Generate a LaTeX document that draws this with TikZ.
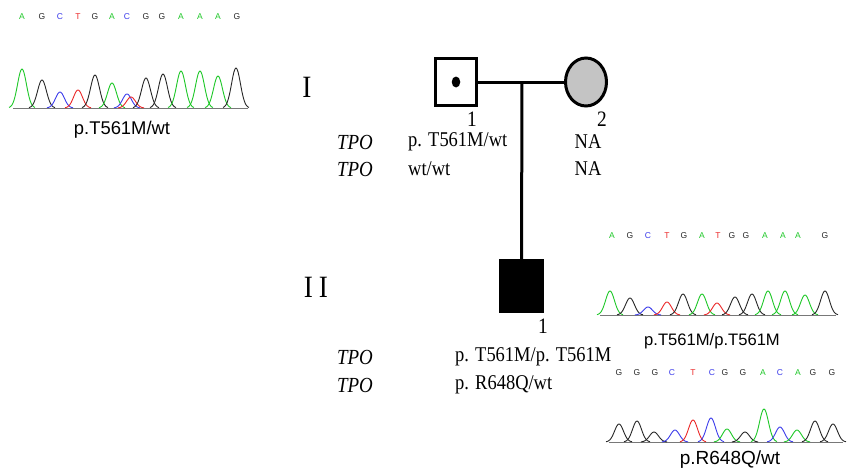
\documentclass[tikz,border=0pt]{standalone}
\usepackage{fontspec}
\setmainfont{Liberation Serif}
\setsansfont{Liberation Sans}
\newfontfamily\pedfont[FakeStretch=0.88]{Liberation Serif}
\usetikzlibrary{shapes.geometric}
\definecolor{cA}{RGB}{30,200,40}
\definecolor{cG}{RGB}{40,40,40}
\definecolor{cC}{RGB}{60,60,235}
\definecolor{cT}{RGB}{235,40,40}
\definecolor{gl}{RGB}{120,120,120}
\definecolor{fgray}{RGB}{196,196,196}
\newcommand\chpk[4]{%
  \pgfmathsetmacro\pka{#2-13}\pgfmathsetmacro\pkb{#2+13}%
  \draw[#1, line width=0.9pt] plot[domain=\pka:\pkb, samples=27, variable=\t, smooth]
     (\t, {#4-(#4-#3)*exp(-((\t-#2)/6.3)^2)});}
\newcommand\fs[1]{\fontsize{#1}{#1}\selectfont}
\tikzset{
  ped/.style={line width=3pt},
  seq/.style={font=\sffamily\fs{8.5}, inner sep=0pt},
  clab/.style={font=\sffamily, inner sep=0pt},
  ptxt/.style={font=\pedfont\fs{21}, inner sep=0pt},
  gene/.style={font=\pedfont\itshape\fs{21.5}, inner sep=0pt},
  gen/.style={font=\pedfont\fs{31}, inner sep=0pt},
  num/.style={font=\pedfont\fs{22}, inner sep=0pt},
}
\begin{document}
\begin{tikzpicture}[x=1pt,y=-1pt]
\useasboundingbox[fill=white] (0,0) rectangle (849,471);
% pedigree
\node[draw, ped, minimum width=41pt, minimum height=47pt, inner sep=0] (I1) at (456,82) {};
\node[fill, ellipse, minimum width=8.5pt, minimum height=11pt, inner sep=0] (dot) at (I1.center) {};
\node[draw, ped, ellipse, fill=fgray, minimum width=41pt, minimum height=48pt, inner sep=0] (I2) at (586,82) {};
\node[draw, ped, fill=black, minimum width=42pt, minimum height=51pt, inner sep=0] (II1) at (521.5,286) {};
\coordinate (m) at (522,82);
\draw[ped] (I1.east) -- (I2.west);
\draw[ped] (m) -- (II1.north);
% generation labels
\node[gen] (gI) at (307,87) {I};
\node[gen] (gII) at (316,287) {I\hspace{6pt}I};
\node[num] (n1) at (472,119) {1};
\node[num] (n2) at (602,119) {2};
\node[num] (n3) at (543,326) {1};
% genotype rows
\node[gene] (t1) at (355,142) {TPO};
\node[gene] (t2) at (355,169) {TPO};
\node[ptxt, anchor=west] (g1) at (408,142) {p. T561M/wt};
\node[ptxt, anchor=west] (g2) at (408,169) {wt/wt};
\node[ptxt] (g3) at (588,142) {NA};
\node[ptxt] (g4) at (588,169) {NA};
\node[gene] (t3) at (355,357) {TPO};
\node[gene] (t4) at (355,385) {TPO};
\node[ptxt, anchor=west] (g5) at (455,357) {p. T561M/p. T561M};
\node[ptxt, anchor=west] (g6) at (455,385) {p. R648Q/wt};
% chromatogram 1
\foreach \l/\x in {A/22,G/42,C/60,T/78,G/95,A/112,C/127,G/146,G/162,A/181,A/200,A/218,G/237}
  \node[seq, text=c\l] at (\x,17) {\l};
\draw[gl, line width=0.8pt] (13,108) -- (248,108);
\foreach \c/\x/\y in {cA/22/69,cG/42/80,cC/60/92,cT/78/90,cG/95/75,cA/112/83,cC/127/94,cT/131/97,cG/146/78,cG/163/74,cA/181/71,cA/200/71,cA/218/76,cG/236/68}
  {\chpk{\c}{\x}{\y}{108}}
\node[clab, font=\sffamily\fs{18.4}] (l1) at (122,130) {p.T561M/wt};
% chromatogram 2
\foreach \l/\x in {A/612,G/630,C/648,T/667,G/684,A/702,T/718,G/732,G/746,A/765,A/783,A/798,G/825}
  \node[seq, text=c\l] at (\x,236) {\l};
\draw[gl, line width=0.8pt] (600,315) -- (836,315);
\foreach \c/\x/\y in {cA/610/291,cG/630/298,cC/648/307,cT/667/302,cG/683/294,cA/702/294,cT/717/303,cG/735/297,cG/752/294,cA/768/291,cA/785/291,cA/805/295,cG/825/291}
  {\chpk{\c}{\x}{\y}{315}}
\node[clab, font=\sffamily\fs{16.6}] (l2) at (712,341) {p.T561M/p.T561M};
% chromatogram 3
\foreach \l/\x in {G/619,G/637,G/655,C/672,T/693,C/712,G/725,G/743,A/763,C/780,A/798,G/813,G/832}
  \node[seq, text=c\l] at (\x,373) {\l};
\draw[gl, line width=0.8pt] (609,442) -- (843,442);
\foreach \c/\x/\y in {cG/619/424,cG/637/421,cG/654/432,cC/675/430,cT/693/420,cC/711/418,cA/727/429,cG/745/432,cA/764/409,cC/780/427,cA/797/430,cG/815/421,cG/833/424}
  {\chpk{\c}{\x}{\y}{442}}
\node[clab, font=\sffamily\fs{19}] (l3) at (730,460) {p.R648Q/wt};
\end{tikzpicture}
\end{document}
